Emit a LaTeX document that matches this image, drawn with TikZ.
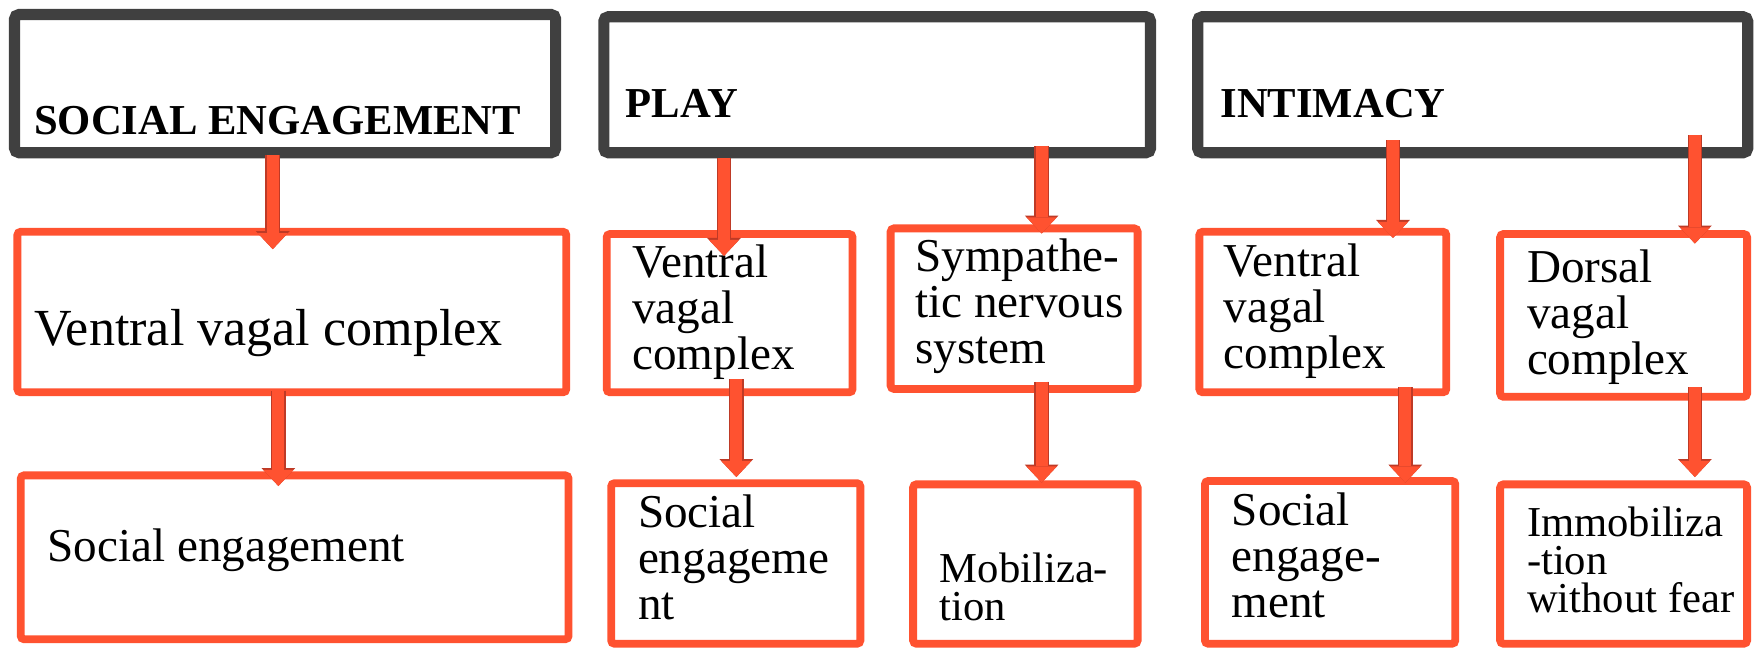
\documentclass[tikz,border=0pt]{standalone}
\usepackage{fontspec}
\setmainfont{Liberation Serif}
\usetikzlibrary{arrows.meta, positioning, fit}
\definecolor{hdrgray}{RGB}{64,64,64}
\definecolor{boxred}{RGB}{255,82,48}
\definecolor{arrowedge}{RGB}{190,58,38}
\tikzstyle{header} = [rectangle, rounded corners=2pt, draw=hdrgray, line width=5pt, inner sep=0pt, outer sep=0pt]
\tikzstyle{stage} = [rectangle, rounded corners=1.5pt, draw=boxred, line width=3.5pt, inner sep=0pt, outer sep=0pt]
\tikzstyle{hdrtext} = [anchor=base west, inner sep=0pt, font=\fontsize{19}{22}\selectfont\bfseries]
\tikzstyle{boxtext} = [anchor=base west, inner sep=0pt, align=left, font=\fontsize{21}{20.5}\selectfont]
\tikzstyle{smalltext} = [anchor=base west, inner sep=0pt, align=left, font=\fontsize{19}{17}\selectfont]
\tikzstyle{flow} = [line width=5.4pt, draw=boxred, -{Triangle[width=13.5pt,length=7.2pt,line width=0pt]},
  preaction={draw=arrowedge, line width=6.6pt, -{Triangle[width=15pt,length=8pt,line width=0pt]}}]

\begin{document}
\begin{tikzpicture}[x=0.5pt, y=-0.5pt]
\useasboundingbox[fill=white] (0,0) rectangle (1568,577);

% Header layer
\node[header, fit={(13,13) (495,136)}] (soc) {};
\node[header, fit={(538,15) (1025,136)}] (play) {};
\node[header, fit={(1067,15) (1557,136)}] (intim) {};

% Vagal systems
\node[stage, fit={(15.5,206.5) (504.5,349.5)}] (vvcA) {};
\node[stage, fit={(540.5,208.5) (759.5,349.5)}] (vvcB) {};
\node[stage, fit={(793.5,203.5) (1013.5,346.5)}] (sns) {};
\node[stage, fit={(1068.5,206.5) (1288.5,349.5)}] (vvcC) {};
\node[stage, fit={(1336.5,208.5) (1556.5,353.5)}] (dvc) {};

% Resulting states
\node[stage, fit={(18.5,423.5) (506.5,569.5)}] (seA) {};
\node[stage, fit={(544.5,430.5) (766.5,573.5)}] (seB) {};
\node[stage, fit={(813.5,431.5) (1013.5,573.5)}] (mob) {};
\node[stage, fit={(1073.5,428.5) (1296.5,573.5)}] (seC) {};
\node[stage, fit={(1336.5,431.5) (1556.5,573.5)}] (imm) {};

% Texts (anchored at the baseline of the last line)
\node[hdrtext] (socT) at (30,120) {SOCIAL ENGAGEMENT};
\node[hdrtext] (playT) at (557,105) {PLAY};
\node[hdrtext] (intimT) at (1087,105) {INTIMACY};
\node[boxtext, font=\fontsize{23.2}{22}\selectfont] (vvcAT) at (30,308) {Ventral vagal complex};
\node[boxtext] (vvcBT) at (563,329) {Ventral\\vagal\\complex};
\node[boxtext] (snsT) at (815,324) {Sympathe-\\tic nervous\\system};
\node[boxtext] (vvcCT) at (1090,328) {Ventral\\vagal\\complex};
\node[boxtext] (dvcT) at (1360,334) {Dorsal\\vagal\\complex};
\node[boxtext] (seAT) at (42,500) {Social engagement};
\node[boxtext] (seBT) at (568,552) {Social\\engageme\\nt};
\node[smalltext] (mobT) at (837,553) {Mobiliza-\\tion};
\node[boxtext] (seCT) at (1097,550) {Social\\engage-\\ment};
\node[smalltext] (immT) at (1360,546) {Immobiliza\\-tion\\without fear};

% Arrows
\draw[flow] ([shift={(-11,2)}]soc.south) -- ([shift={(-17,15.5)}]vvcA.north);
\draw[flow] ([shift={(-12,-1.5)}]vvcA.south) -- ([shift={(-14.5,9.5)}]seA.north);
\draw[flow] ([shift={(107,5)}]play.south west) -- ([shift={(-5,19.5)}]vvcB.north);
\draw[flow] ([shift={(-97,-6)}]play.south east) -- ([shift={(24.5,4.5)}]sns.north);
\draw[flow] ([shift={(6,-11.5)}]vvcB.south) -- ([shift={(0.5,-5.5)}]seB.north);
\draw[flow] ([shift={(24.5,-6.5)}]sns.south) -- ([shift={(14.5,-1.5)}]mob.north);
\draw[flow] ([shift={(174,-11)}]intim.south west) -- ([shift={(62.5,5.5)}]vvcC.north);
\draw[flow] ([shift={(-47,-16)}]intim.south east) -- ([shift={(63.5,8.5)}]dvc.north);
\draw[flow] ([shift={(73.5,-4.5)}]vvcC.south) -- ([shift={(67,1.5)}]seC.north);
\draw[flow] ([shift={(63.5,-8.5)}]dvc.south) -- ([shift={(63.5,-6.5)}]imm.north);

\end{tikzpicture}
\end{document}
